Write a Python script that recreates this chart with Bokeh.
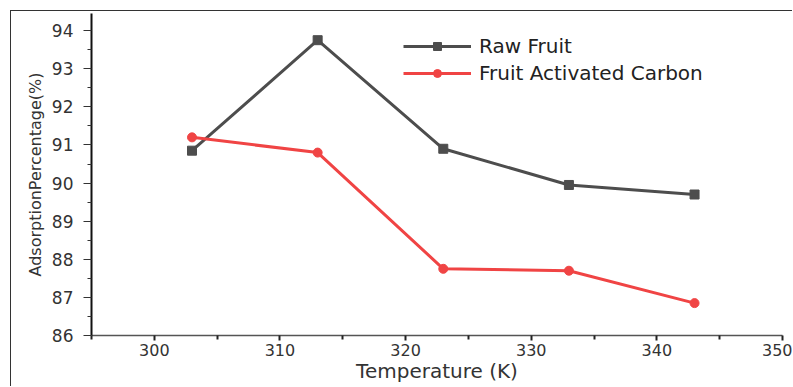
from bokeh.plotting import figure
from bokeh.models import Range1d, Legend, LegendItem, FixedTicker
from bokeh.embed import file_html
from bokeh.resources import INLINE

temperature = [303, 313, 323, 333, 343]
raw_fruit = [90.85, 93.75, 90.9, 89.95, 89.7]
fruit_ac = [91.2, 90.8, 87.75, 87.7, 86.85]
x_ticks = [300, 310, 320, 330, 340, 350]
y_ticks = [86, 87, 88, 89, 90, 91, 92, 93, 94]

FONT = "DejaVu Sans"

p = figure(width=782, height=376, output_backend="svg", toolbar_location=None,
           x_range=Range1d(295, 350), y_range=Range1d(86, 94.45),
           min_border_left=80, min_border_right=11, min_border_top=2, min_border_bottom=52)
p.margin = (10, 0, 0, 10)
p.styles = {"border-top": "1px solid #333", "border-left": "1px solid #333"}
p.outline_line_color = None
p.xgrid.visible = False
p.ygrid.visible = False
p.background_fill_color = "white"
p.border_fill_color = "white"

raw_color = "#4d4d4d"
ac_color = "#f04444"

r1 = p.line(temperature, raw_fruit, line_color=raw_color, line_width=3)
r1m = p.scatter(temperature, raw_fruit, marker="square", size=9, fill_color=raw_color, line_color=raw_color)
r2 = p.line(temperature, fruit_ac, line_color=ac_color, line_width=3)
r2m = p.scatter(temperature, fruit_ac, marker="circle", size=9, fill_color=ac_color, line_color=ac_color)

legend = Legend(items=[LegendItem(label="Raw Fruit", renderers=[r1, r1m]),
                       LegendItem(label="Fruit Activated Carbon", renderers=[r2, r2m])],
                location=(312, 250), orientation="vertical")
legend.border_line_color = None
legend.background_fill_alpha = 0
legend.glyph_width = 68
legend.glyph_height = 20
legend.label_height = 20
legend.spacing = 3
legend.padding = 0
legend.margin = 0
legend.label_standoff = 8
legend.label_text_font = FONT
legend.label_text_font_size = "20px"
legend.label_text_color = "#222222"
p.add_layout(legend, "center")

xa = p.xaxis[0]
xa.ticker = FixedTicker(ticks=x_ticks, minor_ticks=[295, 305, 315, 325, 335, 345])
xa.axis_line_color = "#555555"
xa.axis_line_width = 1.5
xa.major_tick_line_color = "#222222"
xa.major_tick_line_width = 2
xa.major_tick_out = 5
xa.major_tick_in = 0
xa.minor_tick_line_color = "#222222"
xa.minor_tick_line_width = 2
xa.minor_tick_out = 4
xa.minor_tick_in = 0
xa.major_label_text_font = FONT
xa.major_label_text_font_size = "16px"
xa.major_label_text_color = "#333333"
xa.major_label_standoff = 3
xa.axis_label = "Temperature (K)"
xa.axis_label_text_font = FONT
xa.axis_label_text_font_size = "20px"
xa.axis_label_text_font_style = "normal"
xa.axis_label_text_color = "#333333"
xa.axis_label_standoff = 0

ya = p.yaxis[0]
ya.ticker = FixedTicker(ticks=y_ticks, minor_ticks=[86.5, 87.5, 88.5, 89.5, 90.5, 91.5, 92.5, 93.5, 94.5])
ya.axis_line_color = "#111111"
ya.axis_line_width = 2
ya.major_tick_line_color = "#333333"
ya.major_tick_line_width = 1
ya.major_tick_out = 8
ya.major_tick_in = 0
ya.minor_tick_line_color = "#333333"
ya.minor_tick_line_width = 1
ya.minor_tick_out = 4
ya.minor_tick_in = 0
ya.major_label_text_font = FONT
ya.major_label_text_font_size = "17px"
ya.major_label_text_color = "#333333"
ya.major_label_standoff = 10
ya.axis_label = "AdsorptionPercentage(%)"
ya.axis_label_text_font = FONT
ya.axis_label_text_font_size = "16px"
ya.axis_label_text_font_style = "normal"
ya.axis_label_text_color = "#333333"
ya.axis_label_standoff = 4

open("out.html", "w").write(file_html(p, INLINE))
